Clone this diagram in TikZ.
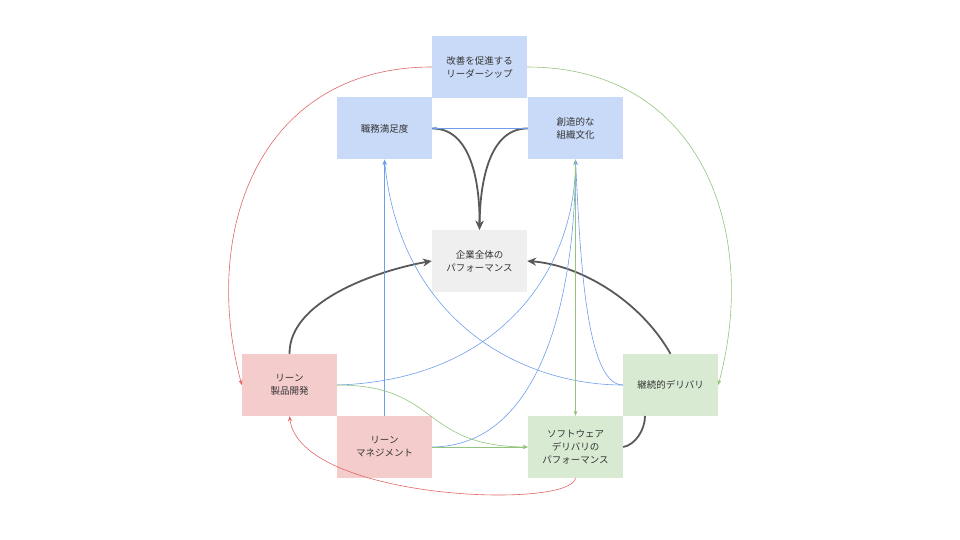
\documentclass[tikz,border=0pt]{standalone}
\usepackage{fontspec}
\setmainfont{Noto Sans CJK JP}
\usetikzlibrary{arrows.meta}
\definecolor{bbox}{HTML}{C9DAF8}
\definecolor{pbox}{HTML}{F4CCCC}
\definecolor{gbox}{HTML}{D9EAD3}
\definecolor{ybox}{HTML}{EFEFEF}
\definecolor{bl}{HTML}{6D9EEB}
\definecolor{rd}{HTML}{E06666}
\definecolor{gr}{HTML}{93C47D}
\definecolor{dk}{HTML}{595959}
\begin{document}
\begin{tikzpicture}[x=1pt,y=-1pt,
 box/.style={minimum width=95pt,minimum height=62pt,inner sep=0pt,align=center,font=\fontsize{9.5}{13}\selectfont,text=black!80},
 thin/.style={line width=0.6pt,-{Stealth[length=5pt,width=4pt]}},
 thick/.style={line width=1.8pt,dk,-{Stealth[length=9pt,width=8pt]}}]
\useasboundingbox (0,0) rectangle (960,540);
\node[box,fill=bbox] (lead) at (479.5,67) {改善を促進する\\リーダーシップ};
\node[box,fill=bbox] (job) at (384.5,128.5) {職務満足度};
\node[box,fill=bbox] (cul) at (575.5,128.5) {創造的な\\組織文化};
\node[box,fill=ybox] (perf) at (479.5,261) {企業全体の\\パフォーマンス};
\node[box,fill=pbox] (lpd) at (289.5,385) {リーン\\製品開発};
\node[box,fill=pbox] (lm) at (384.5,447) {リーン\\マネジメント};
\node[box,fill=gbox] (sdp) at (575.5,447) {ソフトウェア\\デリバリの\\パフォーマンス};
\node[box,fill=gbox] (cd) at (670.5,385) {継続的デリバリ};
% thick
\draw[thick] (job.east) .. controls (470,128) and (480,180) .. (perf.north);
\draw[thick] (cul.west) .. controls (490,128) and (480,180) .. (perf.north);
\draw[thick] (lpd.north) .. controls (289,300) and (380,270) .. (perf.west);
\draw[thick] (cd.north) .. controls (640,300) and (580,265) .. (perf.east);
\draw[line width=1.8pt,dk] (sdp.east) .. controls (635,445) and (645,430) .. (645,416);
% blue
\draw[thin,bl] (cul.west) -- (job.east);
\draw[thin,bl] (lm.north) -- (job.south);
\draw[thin,bl] (cd.west) .. controls (520,385) and (400,320) .. (job.south);
\draw[thin,bl] (lpd.east) .. controls (500,380) and (575,270) .. (cul.south);
\draw[thin,bl] (lm.east) .. controls (540,446) and (575,300) .. (cul.south);
\draw[thin,bl] (cd.west) .. controls (585,385) and (580,250) .. (cul.south);
% green
\draw[thin,gr] (cul.south) -- (sdp.north);
\draw[thin,gr] (lpd.east) .. controls (440,385) and (420,446) .. (sdp.west);
\draw[thin,gr] (lm.east) -- (sdp.west);
\draw[thin,gr] (lead.east) .. controls (700,67) and (760,230) .. (cd.east);
% red
\draw[thin,rd] (lead.west) .. controls (260,67) and (200,230) .. (lpd.west);
\draw[thin,rd] (sdp.south) .. controls (570,510) and (300,500) .. (lpd.south);
\end{tikzpicture}
\end{document}
